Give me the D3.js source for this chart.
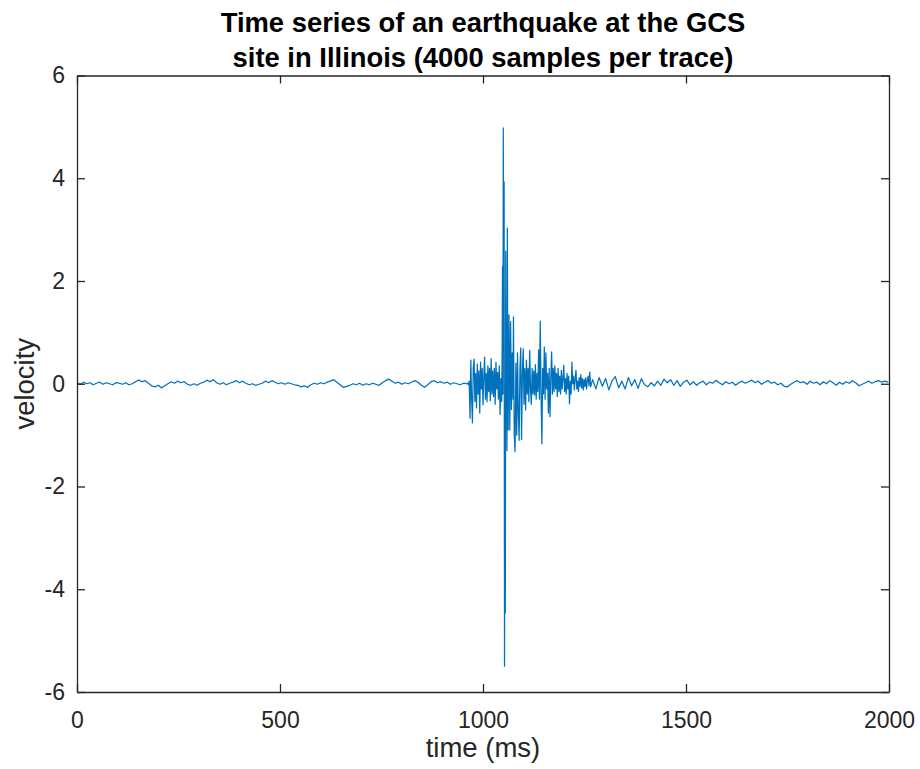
<!DOCTYPE html>
<html>
<head>
<meta charset="utf-8">
<script src="https://cdn.jsdelivr.net/npm/d3@7"></script>
<style>
  html, body { margin: 0; padding: 0; background: #ffffff; }
  svg { display: block; }
  text { font-family: "Liberation Sans", Arial, Helvetica, sans-serif; }
</style>
</head>
<body>
<svg id="chart" width="920" height="769"></svg>
<script>
// ---------------- data ----------------
const titleLines = ["Time series of an earthquake at the GCS", "site in Illinois (4000 samples per trace)"];
const xLabel = "time (ms)";
const yLabel = "velocity";
const xTicks = [0, 500, 1000, 1500, 2000];
const yTicks = [-6, -4, -2, 0, 2, 4, 6];
const xDomain = [0, 2000];
const yDomain = [-6, 6];

// background noise before the arrival: [time ms, velocity]
const quietBefore = [
  [0,0.02],[8,-0.01],[16,0.03],[24,0.00],[32,0.02],[40,-0.02],[48,0.01],[56,0.03],[64,-0.01],[72,0.02],
  [80,0.00],[88,-0.02],[96,0.02],[104,0.01],[112,-0.01],[120,0.02],[128,-0.02],[136,0.00],[144,0.04],[152,0.07],
  [160,0.04],[168,0.06],[176,0.01],[184,-0.04],[192,-0.06],[200,-0.03],[208,-0.08],[216,-0.04],[224,0.00],[232,0.04],
  [240,0.01],[248,0.05],[256,0.02],[264,0.04],[272,-0.01],[280,-0.03],[288,0.00],[296,-0.03],[304,0.01],[312,0.03],
  [320,0.07],[328,0.04],[336,0.08],[344,0.02],[352,-0.01],[360,0.02],[368,-0.02],[376,0.01],[384,0.03],[392,0.06],
  [400,0.02],[408,0.05],[416,0.01],[424,-0.02],[432,0.00],[440,-0.03],[448,-0.01],[456,0.01],[464,0.05],[472,0.02],
  [480,0.06],[488,0.03],[496,0.00],[504,0.02],[512,-0.01],[520,0.02],[528,0.00],[536,-0.02],[544,-0.03],[552,-0.06],
  [560,-0.04],[568,-0.07],[576,-0.02],[584,0.01],[592,-0.01],[600,0.02],[608,0.00],[616,0.03],[624,0.05],[632,0.08],
  [640,0.03],[648,-0.02],[656,-0.07],[664,-0.05],[672,-0.03],[680,0.00],[688,-0.02],[696,0.01],[704,-0.03],[712,0.00],
  [720,-0.02],[728,0.01],[736,-0.01],[744,-0.03],[752,0.02],[760,0.06],[768,0.09],[776,0.05],[784,0.01],[792,0.03],
  [800,-0.01],[808,0.02],[816,0.00],[824,0.03],[832,0.06],[840,0.03],[848,-0.03],[856,-0.07],[864,-0.02],[872,0.04],
  [880,0.06],[888,0.02],[896,0.04],[904,0.01],[912,0.03],[920,-0.01],[928,0.02],[936,0.00],[944,-0.02],[952,0.01],
  [960,0.00]
];

// arrival and strong shaking: [time ms, velocity]
const arrival = [
  [962,0.01],[964,-0.02],[966,0.05],[968,-0.67],[970,0.46],[972,-0.30],[974,-0.76],[976,0.30],[978,0.48],[980,-0.35],
  [982,0.20],[984,-0.47],[986,0.38],[988,-0.20],[990,0.25],[992,-0.57],[994,0.42],[996,-0.10],[998,0.30],[1000,-0.41],
  [1002,0.15],[1004,0.52],[1006,-0.30],[1008,0.20],[1010,-0.35],[1012,0.35],[1014,-0.15],[1016,0.30],[1018,-0.33],[1020,0.49],
  [1022,-0.20],[1024,0.25],[1026,-0.25],[1028,0.30],[1030,-0.40],[1032,0.42],[1034,-0.10],[1036,0.22],[1038,-0.30],[1040,0.35],
  [1042,-0.60],[1044,0.10],[1046,-0.35],[1047,0.40],[1048,2.28],[1049,-0.20],[1050,4.98],[1051,0.60],[1052,3.93],[1053,-5.50],
  [1054,-0.80],[1055,-4.46],[1056,2.58],[1057,-0.50],[1058,0.40],[1059,-1.30],[1060,3.03],[1061,0.20],[1062,-0.90],[1064,1.34],
  [1066,-0.90],[1068,1.21],[1070,-0.50],[1072,0.60],[1074,-0.30],[1075,1.30],[1077,-1.00],[1079,-1.32],[1081,0.40],[1083,-1.00],
  [1085,0.60],[1087,-0.60],[1089,-1.10],[1091,0.30],[1093,0.70],[1095,-1.09],[1097,0.20],[1099,0.68],[1101,-0.40],[1103,0.30],
  [1105,-0.51],[1107,0.46],[1109,-0.20],[1111,0.30],[1113,-0.35],[1115,0.65],[1117,-0.10],[1119,-0.40],[1121,0.30],[1123,-0.20],
  [1125,0.25],[1127,-0.22],[1129,0.37],[1131,-0.30],[1133,0.20],[1135,-0.15],[1137,0.66],[1139,-0.30],[1141,1.22],[1143,-0.20],
  [1145,-1.17],[1147,0.30],[1149,-0.20],[1151,0.72],[1153,-0.30],[1155,0.60],[1157,-0.10],[1159,0.20],[1161,-0.57],[1163,0.30],
  [1165,-0.64],[1167,0.10],[1169,0.62],[1171,-0.20],[1173,0.30],[1175,-0.15],[1177,0.35],[1179,-0.10],[1181,0.20],[1183,-0.25],
  [1185,0.30],[1187,-0.15],[1189,0.15],[1191,-0.20],[1193,0.26],[1195,-0.10],[1197,0.10],[1199,0.36],[1201,-0.15],[1203,0.10],
  [1205,-0.20],[1207,0.20],[1209,-0.10],[1211,0.15],[1213,-0.39],[1215,0.05],[1217,-0.20],[1219,0.42],[1221,0.00],[1223,0.15],
  [1225,-0.12],[1227,0.10],[1229,0.26],[1231,-0.10],[1233,0.05],[1235,-0.15],[1237,0.12],[1239,-0.05],[1241,0.18],[1243,-0.08],
  [1245,0.10],[1247,-0.12],[1249,0.08],[1251,-0.05],[1253,0.12],[1255,-0.10],[1257,0.06],[1259,0.15],[1261,-0.04],[1263,0.23],
  [1265,-0.06]
];

// coda decaying back to noise: [time ms, velocity]
const coda = [
  [1270,0.08],[1278,-0.10],[1286,0.12],[1294,-0.05],[1302,0.10],[1310,-0.12],[1318,0.06],[1326,0.14],[1334,-0.08],[1342,0.05],
  [1350,-0.10],[1358,0.12],[1366,-0.04],[1374,0.08],[1382,-0.09],[1390,0.10],[1398,-0.02],[1406,-0.06],[1414,0.02],[1422,-0.04],
  [1430,0.05],[1438,-0.03],[1446,0.09],[1454,0.02],[1462,0.08],[1470,-0.03],[1478,0.06],[1486,-0.05],[1494,0.03],[1502,0.07],
  [1510,-0.02],[1518,0.04],[1526,-0.03],[1534,0.02],[1542,0.05],[1550,-0.02],[1558,0.03],[1566,0.01],[1574,0.07],[1582,0.02],
  [1590,-0.02],[1598,0.04],[1606,0.00],[1614,0.03],[1622,-0.03],[1630,0.02],[1638,0.05],[1646,0.01],[1654,0.04],[1662,0.07],
  [1670,0.02],[1678,0.05],[1686,-0.01],[1694,0.03],[1702,0.06],[1710,0.01],[1718,0.03],[1726,-0.02],[1734,0.01],[1742,-0.05],
  [1750,-0.06],[1758,-0.01],[1766,0.03],[1774,0.06],[1782,0.02],[1790,0.04],[1798,-0.01],[1806,0.05],[1814,0.01],[1822,0.03],
  [1830,-0.02],[1838,0.04],[1846,0.00],[1854,0.06],[1862,0.02],[1870,-0.03],[1878,0.03],[1886,-0.01],[1894,0.04],[1902,0.01],
  [1910,0.06],[1918,0.02],[1926,-0.04],[1934,-0.01],[1942,0.02],[1950,0.05],[1958,0.01],[1966,0.04],[1974,0.06],[1982,0.03],
  [1990,0.05],[1998,0.03]
];

// ---------------- drawing ----------------
(function () {
const trace = quietBefore.concat(arrival, coda);

const svg = d3.select("#chart");
const mLeft = 77, mRight = 889, mTop = 75.5, mBottom = 692;
const axisColor = "#262626";
const tickFont = 23;

const x = d3.scaleLinear().domain(xDomain).range([mLeft, mRight]);
const y = d3.scaleLinear().domain(yDomain).range([mBottom, mTop]);

const fmt = d => String(d);

// data line (clipped to axes box)
svg.append("clipPath").attr("id", "clip")
  .append("rect").attr("x", mLeft).attr("y", mTop).attr("width", mRight - mLeft).attr("height", mBottom - mTop);

const line = d3.line().x(d => x(d[0])).y(d => y(d[1]));
svg.append("path")
  .datum(trace)
  .attr("clip-path", "url(#clip)")
  .attr("fill", "none")
  .attr("stroke", "#0072BD")
  .attr("stroke-width", 1.25)
  .attr("stroke-linejoin", "round")
  .attr("d", line);

function styleAxis(g) {
  g.select(".domain").attr("stroke", axisColor).attr("stroke-width", 1.3);
  g.selectAll(".tick line").attr("stroke", axisColor).attr("stroke-width", 1.3);
  g.selectAll(".tick text").attr("fill", axisColor).style("font-size", tickFont + "px")
    .style("font-family", '"Liberation Sans", Arial, Helvetica, sans-serif');
}

const gx = svg.append("g").attr("transform", `translate(0,${mBottom})`)
  .call(d3.axisBottom(x).tickValues(xTicks).tickFormat(fmt).tickSizeInner(-8).tickSizeOuter(0).tickPadding(20));
styleAxis(gx);

const gxTop = svg.append("g").attr("transform", `translate(0,${mTop})`)
  .call(d3.axisTop(x).tickValues(xTicks).tickFormat("").tickSizeInner(-8).tickSizeOuter(0));
styleAxis(gxTop);

const gy = svg.append("g").attr("transform", `translate(${mLeft},0)`)
  .call(d3.axisLeft(y).tickValues(yTicks).tickFormat(fmt).tickSizeInner(-8).tickSizeOuter(0).tickPadding(12));
styleAxis(gy);

const gyRight = svg.append("g").attr("transform", `translate(${mRight},0)`)
  .call(d3.axisRight(y).tickValues(yTicks).tickFormat("").tickSizeInner(-8).tickSizeOuter(0));
styleAxis(gyRight);

// title
const title = svg.append("text")
  .attr("text-anchor", "middle")
  .attr("fill", "#000000")
  .style("font-size", "27.4px")
  .style("font-weight", "bold");
titleLines.forEach((t, i) => {
  title.append("tspan").attr("x", (mLeft + mRight) / 2).attr("y", 31.5 + i * 35.5).text(t);
});

// axis labels
svg.append("text")
  .attr("x", (mLeft + mRight) / 2).attr("y", 757)
  .attr("text-anchor", "middle")
  .attr("fill", axisColor)
  .style("font-size", "27.5px")
  .text(xLabel);

svg.append("text")
  .attr("transform", `translate(34,${(mTop + mBottom) / 2}) rotate(-90)`)
  .attr("text-anchor", "middle")
  .attr("fill", axisColor)
  .style("font-size", "27.5px")
  .text(yLabel);
})();
</script>
</body>
</html>
